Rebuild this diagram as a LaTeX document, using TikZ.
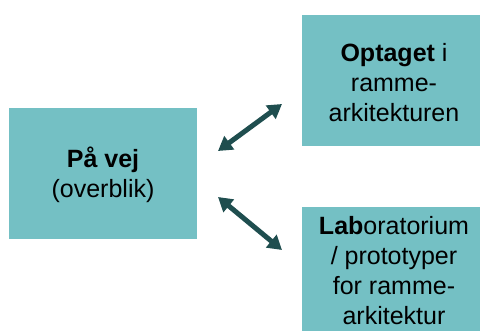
\documentclass[tikz,border=0pt]{standalone}
\usepackage{fontspec}
\setmainfont{Liberation Sans}
\usetikzlibrary{arrows.meta}
\definecolor{boxfill}{RGB}{116,192,196}
\definecolor{arrowcol}{RGB}{31,78,79}
\begin{document}
\begin{tikzpicture}[x=1pt,y=-1pt,
  panel/.style={fill=boxfill, draw=none, inner sep=0pt, anchor=north west},
  label/.style={align=center, font=\fontsize{25}{30}\selectfont, text=black},
  link/.style={arrowcol, line width=5pt, {Triangle[length=14pt,width=16pt]}-{Triangle[length=14pt,width=16pt]}}]
\useasboundingbox (0,0) rectangle (480,331);
\clip (0,0) rectangle (480,331);
% three panels
\node[panel, minimum width=188pt, minimum height=131pt] (road) at (9,108) {};
\node[panel, minimum width=180pt, minimum height=131pt] (arch) at (302,15) {};
\node[panel, minimum width=180pt, minimum height=131pt] (lab) at (302,207) {};
% panel texts
\node[label] (roadtxt) at (103,175) {\textbf{På vej}\\(overblik)};
\node[label] (archtxt) at (394,83) {\textbf{Optaget} i\\ramme-\\arkitekturen};
\node[label] (labtxt) at (394,271) {\textbf{Lab}oratorium\\/ prototyper\\for ramme-\\arkitektur};
% connector end points
\coordinate (r1) at (218,151);
\coordinate (a1) at (282,104);
\coordinate (r2) at (218,197);
\coordinate (l2) at (282,250);
\draw[link] (r1) -- (a1);
\draw[link] (r2) -- (l2);
\end{tikzpicture}
\end{document}
